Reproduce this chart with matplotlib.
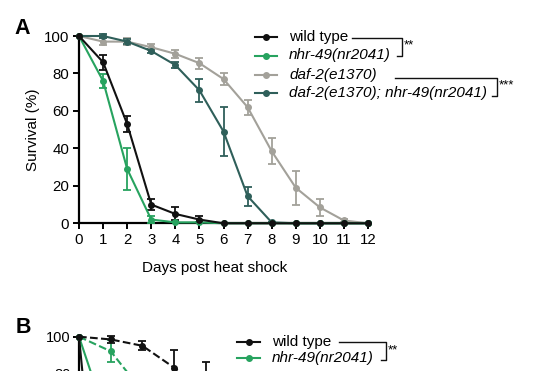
import matplotlib
matplotlib.use("Agg")
import matplotlib.pyplot as plt
from matplotlib.lines import Line2D
from matplotlib.patches import Rectangle

plt.rcParams["font.family"] = ["Liberation Sans", "DejaVu Sans"]

# ---- panel A data ----
days = list(range(13))
wild_type = [100, 86, 53, 10, 5, 2, 0, 0, 0, 0, 0, 0, 0]
wild_type_err = [0, 4, 4.5, 3, 3.5, 2, 0, 0, 0, 0, 0, 0, 0]
nhr49 = [100, 76, 29, 2, 0.5, 0.5, 0, 0, 0, 0, 0, 0, 0]
nhr49_err = [0, 3.5, 11, 2, 0, 0, 0, 0, 0, 0, 0, 0, 0]
daf2 = [100, 97, 97, 94, 90.5, 85.5, 77, 62, 38.5, 19, 8.5, 1.5, 0]
daf2_err = [0, 2, 2, 1.5, 2, 3, 3, 4, 7, 9, 4.5, 1, 0]
daf2_nhr49 = [100, 100, 97, 92, 84.5, 71, 49, 14.5, 0.5, 0, 0, 0, 0]
daf2_nhr49_err = [0, 1, 1.5, 1, 1.5, 6, 13, 5, 0, 0, 0, 0, 0]

# ---- panel B data (only the top of the panel is in the picture) ----
days_b = [0, 1, 2, 3, 4]
wild_type_b = [100, 98.5, 95, 83, 70]
wild_type_b_err = [0, 2, 2.5, 9.5, 16]
days_b_nhr = [0, 1, 2, 3]
nhr49_b = [100, 92, 70, 45]
nhr49_b_err = [0, 6, 10, 8]
days_b_solid = [0, 0.5, 1]
wild_type_b_solid = [100, 10, 0]
days_b_solid_nhr = [0, 1, 2]
nhr49_b_solid = [100, 48, 5]

BLACK = "#111111"
GREEN = "#27a35f"
GRAY = "#a3a19a"
TEAL = "#2f5f5a"
LEG_FS = 11

W, H = 544, 377


def fx(px):
    return px / W


def fy(py):
    return 1 - py / H


fig = plt.figure(figsize=(W / 100, H / 100), dpi=100)

# ---------------- panel A ----------------
ax = fig.add_axes([fx(79), fy(223.3), fx(368) - fx(79), fy(36) - fy(223.3)])
series_a = [
    (daf2, daf2_err, GRAY),
    (daf2_nhr49, daf2_nhr49_err, TEAL),
    (nhr49, nhr49_err, GREEN),
    (wild_type, wild_type_err, BLACK),
]
for vals, err, col in series_a:
    ax.errorbar(days, vals, yerr=err, color=col, lw=1.5, marker="o", ms=4,
                capsize=3, elinewidth=1.3, capthick=1.3, clip_on=False, zorder=3)

ax.set_xlim(0, 12)
ax.set_ylim(0, 100)
ax.set_xticks(days)
ax.set_yticks([0, 20, 40, 60, 80, 100])
for s in ("top", "right"):
    ax.spines[s].set_visible(False)
for s in ("left", "bottom"):
    ax.spines[s].set_linewidth(1.6)
ax.tick_params(direction="out", length=4, width=1.4, labelsize=10.8, pad=3)
ax.set_xlabel("Days post heat shock", fontsize=11)
ax.xaxis.set_label_coords((215 - 79) / 289, -0.2)
ax.set_ylabel("Survival (%)", fontsize=11)
ax.yaxis.set_label_coords(-0.135, 0.5)

fig.text(fx(14), fy(29), "A", fontsize=15.5, fontweight="bold", va="center")

# legend A, drawn by hand to allow the significance brackets
legend_a = [
    (BLACK, "wild type", "normal", 36.5),
    (GREEN, "nhr-49(nr2041)", "italic", 55.5),
    (GRAY, "daf-2(e1370)", "italic", 75),
    (TEAL, "daf-2(e1370); nhr-49(nr2041)", "italic", 93.3),
]
for col, lab, style, y in legend_a:
    fig.add_artist(Line2D([fx(255), fx(277)], [fy(y), fy(y)], color=col, lw=1.5,
                          transform=fig.transFigure))
    fig.add_artist(Line2D([fx(266)], [fy(y)], color=col, marker="o", ms=4,
                          transform=fig.transFigure))
    fig.text(fx(289), fy(y), lab, fontsize=LEG_FS, style=style, va="center", ha="left")


def bracket(x0, x1, y0, y1, xt, label, ty):
    xs = [fx(x0), fx(x1), fx(x1), fx(xt)]
    ys = [fy(y0), fy(y0), fy(y1), fy(y1)]
    fig.add_artist(Line2D(xs, ys, color=BLACK, lw=1.0, transform=fig.transFigure))
    fig.text(fx(x1 + 2), fy(ty), label, fontsize=9.5, va="center", ha="left")


bracket(352, 402, 37.5, 56, 397, "**", 45)
bracket(395, 497, 77.5, 96, 492, "***", 85.5)

# ---------------- panel B ----------------
axb = fig.add_axes([fx(79), fy(518.7), 9 * 31.7 / W, fy(336.7) - fy(518.7)])
axb.plot(days_b_solid_nhr, nhr49_b_solid, color=GREEN, lw=1.5, marker="o", ms=4,
         clip_on=False, zorder=3)
axb.plot(days_b_solid, wild_type_b_solid, color=BLACK, lw=1.5, marker="o", ms=4,
         clip_on=False, zorder=3)
axb.errorbar(days_b_nhr, nhr49_b, yerr=nhr49_b_err, color=GREEN, lw=1.5, ls="--",
             marker="o", ms=4, capsize=3, elinewidth=1.3, capthick=1.3,
             clip_on=False, zorder=3)
axb.errorbar(days_b, wild_type_b, yerr=wild_type_b_err, color=BLACK, lw=1.5, ls="--",
             marker="o", ms=4, capsize=3, elinewidth=1.3, capthick=1.3,
             clip_on=False, zorder=4)
axb.set_xlim(0, 9)
axb.set_ylim(0, 100)
axb.set_yticks([0, 20, 40, 60, 80, 100])
axb.set_xticks([])
for s in ("top", "right"):
    axb.spines[s].set_visible(False)
for s in ("left", "bottom"):
    axb.spines[s].set_linewidth(1.6)
axb.tick_params(direction="out", length=4, width=1.4, labelsize=10.5, pad=2)

fig.text(fx(16), fy(327.5), "B", fontsize=15.5, fontweight="bold", va="center")

legend_b = [
    (BLACK, "wild type", "normal", 341.7),
    (GREEN, "nhr-49(nr2041)", "italic", 358.3),
]
for col, lab, style, y in legend_b:
    fig.add_artist(Line2D([fx(237), fx(260)], [fy(y), fy(y)], color=col, lw=1.5,
                          transform=fig.transFigure))
    fig.add_artist(Line2D([fx(248.5)], [fy(y)], color=col, marker="o", ms=4,
                          transform=fig.transFigure))
    fig.text(fx(271.7), fy(y), lab, fontsize=LEG_FS, style=style, va="center", ha="left")

bracket(339, 385.7, 341.5, 360, 380.5, "**", 350)

# the source image is cropped with a thin white strip along its bottom edge
fig.add_artist(Rectangle((0, 0), 1, fy(371), transform=fig.transFigure,
                         facecolor="white", edgecolor="none", zorder=10))

fig.savefig("out.png", dpi=100)
